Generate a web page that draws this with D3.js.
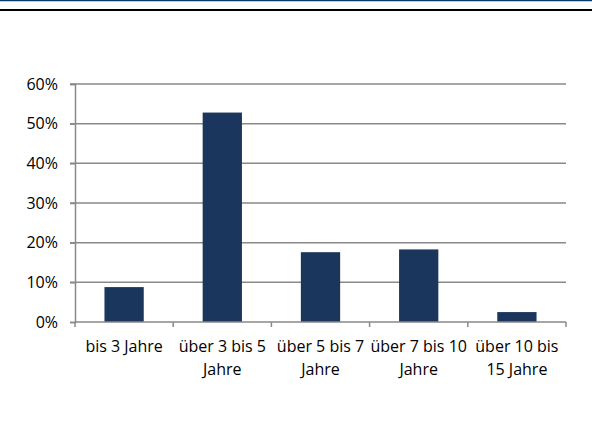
<!DOCTYPE html>
<html><head><meta charset="utf-8">
<script src="https://cdn.jsdelivr.net/npm/d3@7"></script>
<style>body{margin:0;background:#fff}svg{display:block}text{font-family:"Open Sans",sans-serif;fill:#000}</style>
</head><body>
<script>
const categories = ["bis 3 Jahre", "über 3 bis 5|Jahre", "über 5 bis 7|Jahre", "über 7 bis 10|Jahre", "über 10 bis|15 Jahre"];
const values = [0.088, 0.528, 0.176, 0.183, 0.025];
const yTicks = [0, 0.1, 0.2, 0.3, 0.4, 0.5, 0.6];

const W = 592, H = 433;
const FONT = "'Open Sans',sans-serif";
const svg = d3.select("body").append("svg").attr("width", W).attr("height", H);

// header lines
svg.append("line").attr("x1",0).attr("x2",W).attr("y1",0.5).attr("y2",0.5).attr("stroke","#0b3a6a").attr("stroke-width",1.5);
svg.append("line").attr("x1",0).attr("x2",W).attr("y1",10).attr("y2",10).attr("stroke","#000").attr("stroke-width",2);

const x = d3.scaleBand().domain(categories).range([75, 566]).paddingInner(0.6).paddingOuter(0.3);
const xl = d3.scaleBand().domain(categories).range([75, 566]);
const y = d3.scaleLinear().domain([0, 0.6]).range([322, 84]);

// gridlines
svg.append("g").selectAll("line").data(yTicks.slice(1)).join("line")
  .attr("x1",70).attr("x2",566).attr("y1",d=>y(d)).attr("y2",d=>y(d))
  .attr("stroke","#898989").attr("stroke-width",1.5);

// y axis
const ya = svg.append("g").attr("transform","translate(75,0)")
  .call(d3.axisLeft(y).tickValues(yTicks).tickFormat(d3.format(".0%")).tickSize(5).tickPadding(12));
ya.select(".domain").attr("stroke","#898989").attr("stroke-width",1.5);
ya.selectAll(".tick line").attr("stroke","#898989").attr("stroke-width",1.5);
ya.selectAll("text").attr("font-size",16).attr("font-family",FONT).attr("fill","#000");

// bars
svg.append("g").selectAll("rect").data(values).join("rect")
  .attr("x",(d,i)=>x(categories[i])).attr("width",x.bandwidth())
  .attr("y",d=>y(d)).attr("height",d=>y(0)-y(d))
  .attr("fill","#1b365d");

// x axis
const xa = svg.append("g").attr("transform","translate(0,322)")
  .call(d3.axisBottom(xl).tickSize(0).tickFormat(""));
xa.select(".domain").attr("stroke","#898989").attr("stroke-width",1.5).attr("d","M75,0H566");
const bounds = categories.map((c,i)=>xl(c)).concat([566]);
svg.append("g").selectAll("line").data(bounds).join("line")
  .attr("x1",d=>d).attr("x2",d=>d).attr("y1",322).attr("y2",327)
  .attr("stroke","#898989").attr("stroke-width",1.5);

const lbl = svg.append("g").selectAll("text").data(categories).join("text")
  .attr("x",d=>xl(d)+xl.bandwidth()/2).attr("y",352)
  .attr("text-anchor","middle").attr("font-size",16);
lbl.selectAll("tspan").data(d=>d.split("|")).join("tspan")
  .attr("x",function(){return d3.select(this.parentNode).attr("x");})
  .attr("dy",(d,i)=>i?22.5:0).text(d=>d);
</script>
</body></html>
